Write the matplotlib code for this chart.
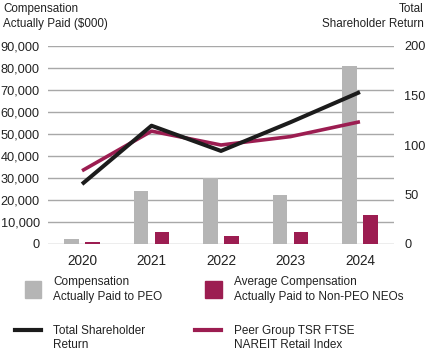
import matplotlib
matplotlib.use("Agg")
import matplotlib.pyplot as plt
from matplotlib.lines import Line2D
from matplotlib.patches import Rectangle

plt.rcParams['font.family'] = ['Liberation Sans', 'DejaVu Sans']

years = ["2020", "2021", "2022", "2023", "2024"]
cap_peo = [2400, 24200, 29900, 22100, 81000]
cap_non_peo = [900, 5600, 3800, 5300, 13200]
tsr = [60.5, 119.5, 94, 123, 153.5]
peer_tsr = [74, 114, 100, 108.5, 123.5]
left_ticks = [0, 10000, 20000, 30000, 40000, 50000, 60000, 70000, 80000, 90000]
right_ticks = [0, 50, 100, 150, 200]

GRAY = "#b5b5b5"
MAGENTA = "#9c1d51"
BLACK = "#1c1c1c"
TEXT = "#222222"

fig = plt.figure(figsize=(4.27, 3.56), dpi=100)
ax = fig.add_axes([48/427, 1-244/356, (394-48)/427, (244-46)/356])
x = list(range(len(years)))
w = 0.21
off = 0.152
ax.bar([i - off for i in x], cap_peo, width=w, color=GRAY, zorder=2)
ax.bar([i + off for i in x], cap_non_peo, width=w, color=MAGENTA, zorder=2)
ax.set_ylim(0, 90000)
ax.set_xlim(-0.49, 4.49)
ax.set_yticks(left_ticks)
ax.set_yticklabels([f"{t:,}" for t in left_ticks])
ax.set_xticks(x)
ax.set_xticklabels(years)
ax.yaxis.grid(True, color="#a8a8a8", linewidth=1.0, zorder=0)
ax.set_axisbelow(True)
for s in ax.spines.values():
    s.set_visible(False)
ax.tick_params(axis='y', length=0, labelsize=9.2, colors=TEXT, pad=6)
ax.tick_params(axis='x', length=0, labelsize=9.8, colors=TEXT, pad=7)

ax2 = ax.twinx()
ax2.plot(x, peer_tsr, color=MAGENTA, lw=2.6, zorder=3, solid_capstyle='butt')
ax2.plot(x, tsr, color=BLACK, lw=2.9, zorder=4, solid_capstyle='butt')
ax2.set_ylim(0, 200)
ax2.set_yticks(right_ticks)
ax2.tick_params(axis='y', length=0, labelsize=9.2, colors=TEXT, pad=7.5)
for s in ax2.spines.values():
    s.set_visible(False)

fig.text(3/427, 1-3/356, "Compensation\nActually Paid ($000)", ha='left', va='top',
         fontsize=8.4, color=TEXT, linespacing=1.3)
fig.text(424/427, 1-3/356, "Total\nShareholder Return", ha='right', va='top',
         fontsize=8.4, color=TEXT, linespacing=1.3, multialignment='right')

def fx(px):
    return px / 427
def fy(py):
    return 1 - py / 356

fig.patches.append(Rectangle((fx(25), fy(297.5)), 16.5/427, 16.5/356,
                             transform=fig.transFigure, color=GRAY))
fig.patches.append(Rectangle((fx(205.5), fy(297.5)), 16.5/427, 16.5/356,
                             transform=fig.transFigure, color=MAGENTA))
fig.lines.append(Line2D([fx(15), fx(41.5)], [fy(330), fy(330)], transform=fig.transFigure,
                        color=BLACK, lw=3))
fig.lines.append(Line2D([fx(195), fx(221.5)], [fy(330), fy(330)], transform=fig.transFigure,
                        color=MAGENTA, lw=3))
fs_leg = 8.5
fig.text(fx(53), fy(289.5), "Compensation\nActually Paid to PEO", ha='left', va='center',
         fontsize=fs_leg, color=TEXT, linespacing=1.3)
fig.text(fx(234), fy(289.5), "Average Compensation\nActually Paid to Non-PEO NEOs", ha='left',
         va='center', fontsize=fs_leg, color=TEXT, linespacing=1.3)
fig.text(fx(53), fy(338), "Total Shareholder\nReturn", ha='left', va='center',
         fontsize=fs_leg, color=TEXT, linespacing=1.3)
fig.text(fx(234), fy(338), "Peer Group TSR FTSE\nNAREIT Retail Index", ha='left', va='center',
         fontsize=fs_leg, color=TEXT, linespacing=1.3)

fig.savefig("out.png", dpi=100)
